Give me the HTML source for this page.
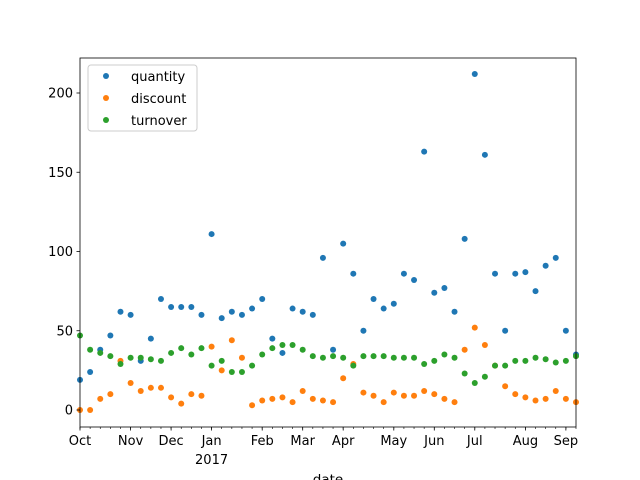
<!DOCTYPE html>
<html><head><meta charset="utf-8"><style>
html,body{margin:0;padding:0;background:#fff;}
svg{display:block;font-family:"DejaVu Sans","Liberation Sans",sans-serif;}
</style></head><body>
<svg id="chart" width="640" height="480" viewBox="0 0 640 480" xmlns="http://www.w3.org/2000/svg">
<rect x="0" y="0" width="640" height="480" fill="#fff"/>
<g id="marks"></g>
<g id="axes"></g>
<g id="legend">
<rect x="88" y="65" width="109" height="66" rx="3" fill="#fff" fill-opacity="0.8" stroke="#ccc"/>
<circle cx="106" cy="76" r="3" fill="#1f77b4"/><text x="131" y="81" font-size="13">quantity</text>
<circle cx="106" cy="98" r="3" fill="#ff7f0e"/><text x="131" y="103" font-size="13">discount</text>
<circle cx="106" cy="120" r="3" fill="#2ca02c"/><text x="131" y="125" font-size="13">turnover</text>
</g>
</svg>
<script>
const quantity = [19,24,38,47,62,60,31,45,70,65,65,65,60,111,58,62,60,64,70,45,36,64,62,60,96,38,105,86,50,70,64,67,86,82,163,74,77,62,108,212,161,86,50,86,87,75,91,96,50,35];
const discount = [0,0,7,10,31,17,12,14,14,8,4,10,9,40,25,44,33,3,6,7,8,5,12,7,6,5,20,29,11,9,5,11,9,9,12,10,7,5,38,52,41,28,15,10,8,6,7,12,7,5];
const turnover = [47,38,36,34,29,33,33,32,31,36,39,35,39,28,31,24,24,28,35,39,41,41,38,34,33,34,33,28,34,34,34,33,33,33,29,31,35,33,23,17,21,28,28,31,31,33,32,30,31,34];
const yTicks = [0,50,100,150,200];
const monthLabels = ["Oct","Nov","Dec","Jan","Feb","Mar","Apr","May","Jun","Jul","Aug","Sep"];
const monthWeekIndex = [0,5,9,13,18,22,26,31,35,39,44,48];

const NS="http://www.w3.org/2000/svg";
const L=80,R=576,T=58,B=427;
const n=quantity.length;
function x(i){return L+i/(n-1)*(R-L);}
function y(v){return 410-v*(317/200);}
function mk(tag,attrs,parent){const e=document.createElementNS(NS,tag);for(const k in attrs)e.setAttribute(k,attrs[k]);parent.appendChild(e);return e;}
const marks=document.getElementById('marks');
const axes=document.getElementById('axes');
const series=[["quantity",quantity,"#1f77b4"],["discount",discount,"#ff7f0e"],["turnover",turnover,"#2ca02c"]];
series.forEach(s=>{
  s[1].forEach((v,i)=>{
    const c=mk('circle',{cx:x(i),cy:y(v),r:3,fill:s[2]},marks);
    
    
  });
});
const fr=mk('rect',{x:L,y:T,width:R-L,height:B-T,fill:'none',stroke:'#000','stroke-width':0.8},axes);


yTicks.forEach(v=>{
  mk('line',{x1:L-3.5,x2:L,y1:y(v),y2:y(v),stroke:'#000','stroke-width':0.8},axes);
  const tx=mk('text',{x:L-7,y:y(v)+4.5,'text-anchor':'end','font-size':13},axes);
  tx.textContent=v;
  
  
});
for(let i=0;i<n;i++){
  const xx=x(i);
  mk('line',{x1:xx,x2:xx,y1:B,y2:B+2,stroke:'#000','stroke-width':0.6},axes);
}
monthLabels.forEach((m,k)=>{
  const xx=x(monthWeekIndex[k]);
  mk('line',{x1:xx,x2:xx,y1:B,y2:B+3.5,stroke:'#000','stroke-width':0.8},axes);
  const tx=mk('text',{x:xx,y:B+18,'text-anchor':'middle','font-size':13},axes);
  tx.textContent=m;
  
  
  if(m==="Jan"){
    const yr=mk('text',{x:xx,y:B+37,'text-anchor':'middle','font-size':13},axes);
    yr.textContent="2017";
    
    
  }
});
const xl=mk('text',{x:(L+R)/2,y:484,'text-anchor':'middle','font-size':13.5},axes);
xl.textContent="date";


</script>
</body></html>
